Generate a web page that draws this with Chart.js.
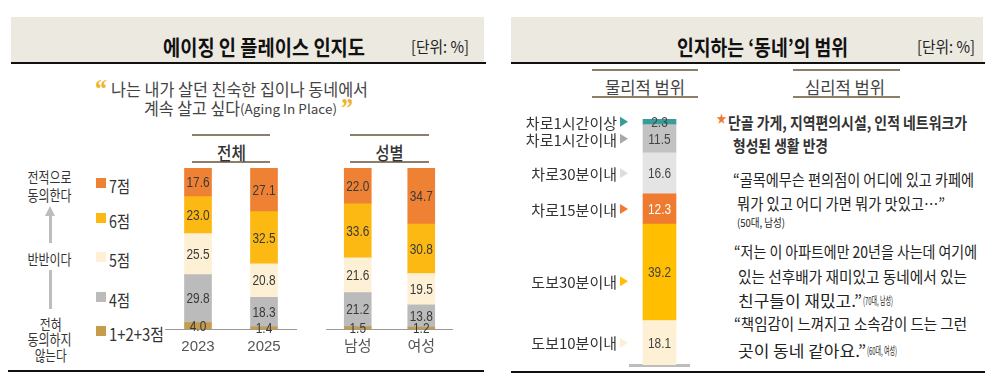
<!DOCTYPE html>
<html><head><meta charset="utf-8">
<script src="https://cdn.jsdelivr.net/npm/chart.js@4.4.1/dist/chart.umd.min.js"></script>
<style>
html,body{margin:0;padding:0;background:#fff;}
body{width:993px;height:380px;overflow:hidden;position:relative;}
.box{position:absolute;}
.t{position:absolute;white-space:nowrap;line-height:1;}
canvas{position:absolute;}
</style></head><body>
<script>
// ---------- DATA ----------
const totalCats  = ['2023', '2025'];
const genderCats = ['남성', '여성'];
const scoreNames = ['1+2+3점', '4점', '5점', '6점', '7점'];   // bottom -> top
const total_123 = [4.0, 1.4];
const total_4   = [29.8, 18.3];
const total_5   = [25.5, 20.8];
const total_6   = [23.0, 32.5];
const total_7   = [17.6, 27.1];
const gender_123 = [1.5, 1.2];
const gender_4   = [21.2, 13.8];
const gender_5   = [21.6, 19.5];
const gender_6   = [33.6, 30.8];
const gender_7   = [22.0, 34.7];
const rangeNames  = ['도보10분이내', '도보30분이내', '차로15분이내', '차로30분이내', '차로1시간이내', '차로1시간이상']; // bottom -> top
const rangeValues = [18.1, 39.2, 12.3, 16.6, 11.5, 2.3];

// ---------- STYLES ----------
const scoreColors = ['#C59B4C', '#BBBBBB', '#FDF0D4', '#FDB913', '#EF8134'];
const rangeColors = ['#FDF0D5', '#FFBF00', '#EE7B30', '#E4E4E4', '#C2C2C2', '#3A9C98'];
const rangeArrowColors = ['#FCEFD6', '#FFBF00', '#EE7B30', '#DDDDDD', '#A9A9A9', '#3A9C98'];
const rangeLabelColors = ['#444', '#444', '#fff', '#444', '#444', '#444'];
const KF = "'Noto Sans CJK KR', sans-serif";
const NF = "'Liberation Sans Narrow', 'Liberation Sans', 'Noto Sans CJK KR', sans-serif";

function box(l, t, w, h, bg) {
  const d = document.createElement('div'); d.className = 'box';
  d.style.cssText += `left:${l}px;top:${t}px;width:${w}px;height:${h}px;background:${bg};`;
  document.body.appendChild(d); return d;
}
function T(t, x, y, o = {}) {
  const d = document.createElement('div'); d.className = 't'; d.textContent = t;
  const s = o.s || 15;
  d.style.font = `${o.b || 400} ${s}px ${o.f || KF}`;
  d.style.color = o.c || '#333';
  document.body.appendChild(d);
  const w = d.getBoundingClientRect().width;
  const sx = o.w ? o.w / w : 1;
  d.style.left = (o.ctr ? x - w / 2 : x) + 'px';
  d.style.top = (y - (o.vy || 0.57) * s) + 'px';
  d.style.transformOrigin = o.ctr ? 'center center' : 'left center';
  d.style.transform = `scaleX(${sx})`;
  return d;
}

// ---------- FRAME ----------
box(11, 17, 473, 46, '#ECE9E0');
box(11, 62, 475, 2, '#111');
box(511, 17, 472, 46, '#ECE9E0');
box(511, 62, 474, 2, '#111');
box(8, 370, 476, 2, '#111');
box(511, 371, 474, 2, '#111');
const HL = '#8C7E69';
box(192, 134, 78, 2, HL); box(192, 161, 78, 2, HL);
box(350, 134, 79, 2, HL); box(350, 161, 79, 2, HL);
box(592, 69, 106, 2, HL); box(592, 96, 106, 2, HL);
box(793, 69, 107, 2, HL); box(793, 96, 107, 2, HL);
box(48.5, 214, 3, 29, '#BDBDBD');
box(48.5, 270, 3, 39, '#BDBDBD');
const ah = box(45, 206, 0, 0, 'transparent');
ah.style.borderLeft = '5px solid transparent'; ah.style.borderRight = '5px solid transparent';
ah.style.borderBottom = '10px solid #BDBDBD';

// ---------- TEXT ----------
T('에이징 인 플레이스 인지도', 163, 43, {s: 21, b: 700, w: 202, c: '#111'});
T('[단위: %]', 411, 43, {s: 16, w: 58, c: '#222'});
T('“', 95, 81, {s: 28, w: 12, c: '#F2B22E', f: "'Liberation Serif'", b: 700, vy: 0.28});
T('나는 내가 살던 친숙한 집이나 동네에서', 111, 86, {s: 17, w: 257, c: '#444'});
T('계속 살고 싶다', 144, 105, {s: 17, w: 96, c: '#444'});
T('(Aging In Place)', 240, 106, {s: 13, w: 97, c: '#444'});
T('”', 341, 100, {s: 28, w: 12, c: '#F2B22E', f: "'Liberation Serif'", b: 700, vy: 0.28});
T('전체', 231.5, 149, {s: 18, b: 500, w: 29, ctr: 1, c: '#333'});
T('성별', 389.5, 149, {s: 18, b: 500, w: 28, ctr: 1, c: '#333'});
T('전적으로', 50, 175, {s: 15, w: 44, ctr: 1, c: '#333'});
T('동의한다', 50, 193, {s: 15, w: 44, ctr: 1, c: '#333'});
T('반반이다', 50, 257, {s: 15, w: 44, ctr: 1, c: '#333'});
T('전혀', 51, 322, {s: 15, w: 22, ctr: 1, c: '#333'});
T('동의하지', 50, 337, {s: 15, w: 44, ctr: 1, c: '#333'});
T('않는다', 51, 353, {s: 15, w: 32, ctr: 1, c: '#333'});

const legendY = [183, 218, 257, 297, 331];
for (let k = 0; k < scoreNames.length; k++) {
  const i = scoreNames.length - 1 - k;
  box(96, legendY[k] - 5, 10, 10, scoreColors[i]);
  T(scoreNames[i], 109, legendY[k], {s: 17, w: scoreNames[i].length > 2 ? 55 : 21, c: '#333'});
}

T('인지하는 ‘동네’의 범위', 677, 43, {s: 21, b: 700, w: 171, c: '#111'});
T('[단위: %]', 917, 43, {s: 16, w: 58, c: '#222'});
T('물리적 범위', 605, 84, {s: 17, w: 80, c: '#444'});
T('심리적 범위', 805, 84, {s: 17, w: 80, c: '#444'});
T('★', 716, 119, {s: 15, w: 11, c: '#EE7B30', f: "'DejaVu Sans'", vy: 0.6});
T('단골 가게, 지역편의시설, 인적 네트워크가', 728, 119, {s: 16, b: 700, w: 239, c: '#333'});
T('형성된 생활 반경', 733, 142, {s: 16, b: 700, w: 95, c: '#333'});
T('“골목에무슨 편의점이 어디에 있고 카페에', 733, 176, {s: 16, w: 241, c: '#222'});
T('뭐가 있고 어디 가면 뭐가 맛있고…”', 737, 200, {s: 16, w: 208, c: '#222'});
T('(50대, 남성)', 737, 220, {s: 11, w: 48, c: '#222'});
T('“저는 이 아파트에만 20년을 사는데 여기에', 734, 248, {s: 16, w: 243, c: '#222'});
T('있는 선후배가 재미있고 동네에서 있는', 738, 273, {s: 16, w: 229, c: '#222'});
T('친구들이 재밌고.”', 738, 297, {s: 16, w: 124, c: '#222'});
T('(70대, 남성)', 863, 298, {s: 11, w: 30, c: '#222'});
T('“책임감이 느껴지고 소속감이 드는 그런', 734, 320, {s: 16, w: 233, c: '#222'});
T('곳이 동네 같아요.”', 738, 347, {s: 16, w: 128, c: '#222'});
T('(60대, 여성)', 867, 348, {s: 11, w: 30, c: '#222'});

// ---------- CHARTS ----------
const valueLabels = {
  id: 'valueLabels',
  afterDatasetsDraw(chart, args, opts) {
    const ctx = chart.ctx;
    chart.data.datasets.forEach((ds, i) => {
      chart.getDatasetMeta(i).data.forEach((bar, j) => {
        ctx.save();
        ctx.font = opts.font; ctx.textAlign = 'center'; ctx.textBaseline = 'middle';
        ctx.fillStyle = ds.valueColor || '#333';
        ctx.translate(bar.x, (bar.y + bar.base) / 2 + 1);
        ctx.scale(opts.sx || 1, 1);
        ctx.fillText(ds.data[j].toFixed(1), 0, 0);
        ctx.restore();
      });
    });
  }
};
const sideLabels = {
  id: 'sideLabels',
  afterDatasetsDraw(chart, args, opts) {
    const ctx = chart.ctx; ctx.save();
    const left = chart.chartArea.left;
    ctx.textAlign = 'right'; ctx.textBaseline = 'middle';
    chart.data.datasets.forEach((ds, i) => {
      const bar = chart.getDatasetMeta(i).data[0];
      const y = (bar.y + bar.base) / 2 + (opts.nudge[i] || 0);
      ctx.font = opts.font; ctx.fillStyle = '#333';
      ctx.fillText(ds.label, left - 13, y + 1);
      ctx.fillStyle = ds.arrowColor;
      ctx.beginPath(); ctx.moveTo(left - 10, y - 5); ctx.lineTo(left - 2, y); ctx.lineTo(left - 10, y + 5); ctx.closePath(); ctx.fill();
    });
    ctx.restore();
  }
};

function stackChart(left, cats, series, width) {
  const c = document.createElement('canvas');
  c.width = width; c.height = 206;
  c.style.left = left + 'px'; c.style.top = '164px';
  document.body.appendChild(c);
  new Chart(c, {
    type: 'bar',
    data: {
      labels: cats,
      datasets: series.map((d, i) => ({ label: scoreNames[i], data: d, backgroundColor: scoreColors[i], barThickness: 27, borderWidth: 0, valueColor: '#3a3a3a' }))
    },
    options: {
      responsive: false, animation: false, devicePixelRatio: 1,
      layout: { padding: { top: 4, bottom: 5, left: 0, right: 0 } },
      plugins: { legend: { display: false }, tooltip: { enabled: false }, valueLabels: { font: "14px " + NF, sx: 0.85 } },
      scales: {
        x: { stacked: true, grid: { display: false, drawTicks: false }, border: { color: '#9A9A9A', width: 1 },
             ticks: { padding: 9, color: '#555', font: { size: 15, family: NF } } },
        y: { stacked: true, display: false, min: 0, max: 100.1 }
      }
    },
    plugins: [valueLabels]
  });
}
stackChart(165, totalCats, [total_123, total_4, total_5, total_6, total_7], 132);
stackChart(326, genderCats, [gender_123, gender_4, gender_5, gender_6, gender_7], 127);

(function () {
  const c = document.createElement('canvas');
  c.width = 180; c.height = 268;
  c.style.left = '520px'; c.style.top = '105px';
  document.body.appendChild(c);
  new Chart(c, {
    type: 'bar',
    data: {
      labels: ['물리적 범위'],
      datasets: rangeNames.map((n, i) => ({ label: n, data: [rangeValues[i]], backgroundColor: rangeColors[i], arrowColor: rangeArrowColors[i], valueColor: rangeLabelColors[i], barThickness: 33, borderWidth: 0 }))
    },
    options: {
      responsive: false, animation: false, devicePixelRatio: 1,
      layout: { padding: { top: 14, bottom: 8, left: 110, right: 11 } },
      plugins: { legend: { display: false }, tooltip: { enabled: false },
                 valueLabels: { font: "14px " + NF, sx: 0.85 },
                 sideLabels: { font: "15px " + KF, nudge: [0, 9, 0, 0, 0, 0] } },
      scales: {
        x: { stacked: true, grid: { display: false, drawTicks: false }, ticks: { display: false }, border: { color: '#BDBDBD', width: 3 } },
        y: { stacked: true, display: false, min: 0, max: 100 }
      }
    },
    plugins: [valueLabels, sideLabels]
  });
})();
</script>
</body></html>
